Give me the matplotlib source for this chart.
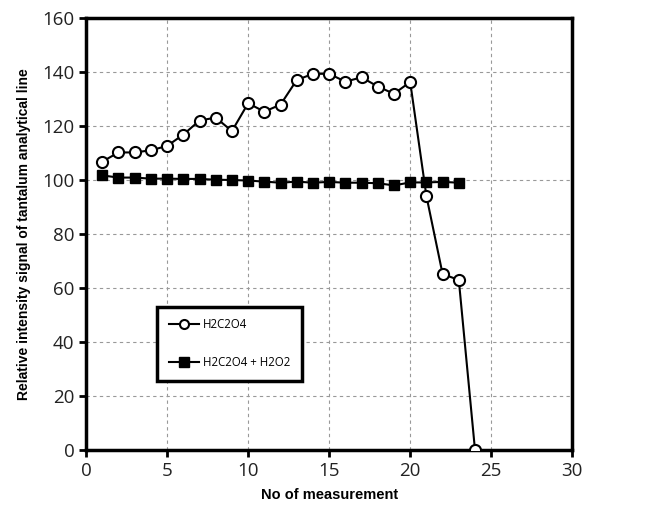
import matplotlib
matplotlib.use("Agg")
import matplotlib.pyplot as plt

meas_ox = list(range(1, 25))
h2c2o4 = [106.8, 110.2, 110.2, 111.0, 112.6, 116.8, 122.0, 123.1, 118.1, 128.4,
          125.3, 127.9, 137.0, 139.3, 139.3, 136.4, 138.0, 134.6, 131.9, 136.3,
          94.1, 65.2, 63.0, 0.0]

meas_mix = list(range(1, 24))
h2c2o4_h2o2 = [101.7, 100.9, 100.9, 100.5, 100.5, 100.4, 100.4, 100.1, 100.0, 99.8,
               99.4, 99.0, 99.4, 99.0, 99.3, 99.0, 99.0, 98.8, 98.0, 99.1,
               99.1, 99.3, 99.0]

fig = plt.figure(figsize=(6.57, 5.11), dpi=100)
ax = fig.add_axes([0.131, 0.119, 0.740, 0.846])

ax.plot(meas_ox, h2c2o4, color="black", lw=1.5, marker="o", ms=8,
        mfc="white", mec="black", mew=1.5, label="H2C2O4", zorder=3)
ax.plot(meas_mix, h2c2o4_h2o2, color="black", lw=1.5, marker="s", ms=7,
        mfc="black", mec="black", label="H2C2O4 + H2O2", zorder=3)

ax.set_xlim(0, 30)
ax.set_ylim(0, 160)
ax.set_xticks(range(0, 31, 5))
ax.set_yticks(range(0, 161, 20))
ax.grid(True, color="#999999", ls=(0, (3, 3)), lw=0.8)
ax.set_axisbelow(True)

for s in ax.spines.values():
    s.set_linewidth(2.5)
ax.tick_params(direction="out", width=2, length=5, labelsize=13.5, colors="black")
for lbl in ax.get_xticklabels() + ax.get_yticklabels():
    lbl.set_family("Open Sans")
    lbl.set_color("#222222")

ax.set_xlabel("No of measurement", fontsize=10.5, fontweight="bold",
              family="Liberation Sans", labelpad=6)
ax.set_ylabel("Relative intensity signal of tantalum analytical line", fontsize=10,
              fontweight="bold", family="Liberation Sans", labelpad=8)

leg = ax.legend(loc="lower left", bbox_to_anchor=(0.146, 0.16), borderaxespad=0,
                fancybox=False, edgecolor="black", framealpha=1, handlelength=2.6,
                handletextpad=0.4, labelspacing=2.2, borderpad=1.0,
                prop={"family": "Open Sans", "size": 8.3})
leg.get_frame().set_linewidth(2.5)
for h in leg.legend_handles:
    h.set_markersize(6.5)

fig.savefig("out.png", dpi=100)
